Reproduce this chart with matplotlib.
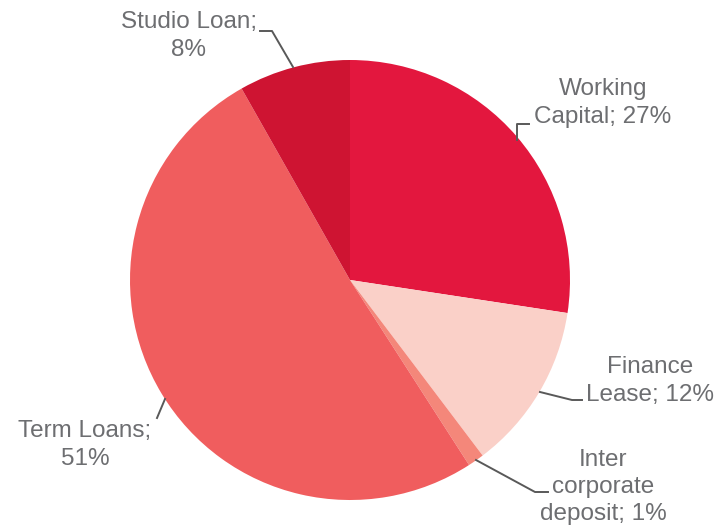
import matplotlib.pyplot as plt

# loan mix (share of total, %)
categories = ["Working Capital", "Finance Lease", "Inter corporate deposit", "Term Loans", "Studio Loan"]
shares = [27.4, 12.3, 1.2, 50.9, 8.2]
label_text = ["Working\nCapital; 27%", "Finance\nLease; 12%", "Inter\ncorporate\ndeposit; 1%",
              "Term Loans;\n51%", "Studio Loan;\n8%"]
colors = ["#E3173E", "#FAD0C8", "#F4877A", "#F05D5E", "#CE1432"]

plt.rcParams['font.family'] = ['Liberation Sans', 'DejaVu Sans']
txt_color = "#6D6E71"

fig = plt.figure(figsize=(7.17, 5.28), dpi=100)
ax = fig.add_axes([0, 0, 1, 1])

ax.pie(shares, colors=colors, startangle=90, counterclock=False,
       center=(350, 248), radius=220, frame=True,
       wedgeprops=dict(linewidth=0))
ax.set_xlim(0, 717)
ax.set_ylim(0, 528)
ax.set_aspect('equal')
ax.axis('off')

# label positions (x, y in pixel-like coords, y from bottom) and leader lines
label_pos = [(603, 425), (650, 147), (603, 41), (85, 83), (189, 492)]
leaders = [
    [(517, 388), (517, 404), (529, 404)],
    [(540, 136), (572, 128), (582, 128)],
    [(476, 68), (535, 36), (548, 36)],
    [(165, 129), (157, 110)],
    [(293, 461), (272, 497), (260, 497)],
]

for txt, (x, y), pts in zip(label_text, label_pos, leaders):
    ax.text(x, y, txt, ha='center', va='center', fontsize=17.5,
            color=txt_color, linespacing=1.32)
    xs = [p[0] for p in pts]
    ys = [p[1] for p in pts]
    ax.plot(xs, ys, color="#595959", lw=1.4)

plt.savefig("out.png", dpi=100)
